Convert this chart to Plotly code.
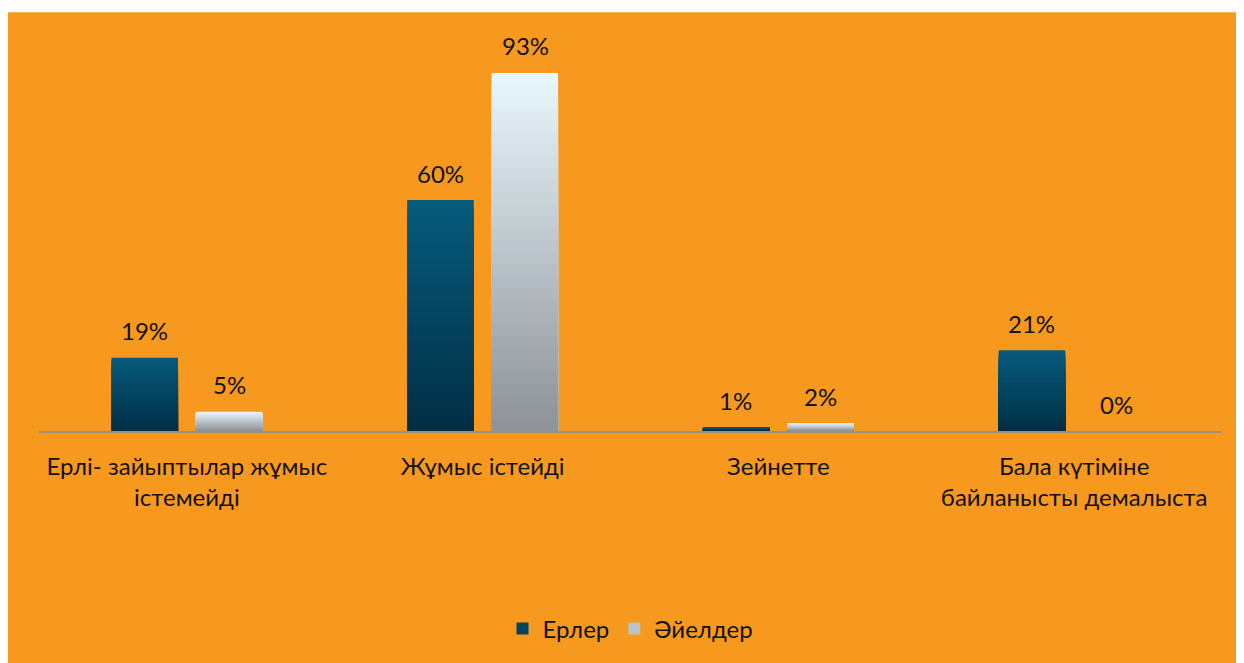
import plotly.graph_objects as go

categories = ["Ерлі- зайыптылар жұмыс<br>істемейді", "Жұмыс істейді", "Зейнетте",
              "Бала күтіміне<br>байланысты демалыста"]
men = [19, 60, 1, 21]
women = [5, 93, 2, 0]
series_names = ["Ерлер", "Әйелдер"]

# page body adds an 8px margin, so the figure is 8px smaller than the window
W, H = 1236, 655
ML, MR, MT, MB = 31, 22, 38, 230
PW = W - ML - MR
PH = H - MT - MB
FONT = "Lato, 'Open Sans', sans-serif"
ORANGE = "#F8991F"

def hex2rgb(h):
    h = h.lstrip("#")
    return tuple(int(h[i:i + 2], 16) for i in (0, 2, 4))

def mix(c1, c2, t):
    a, b = hex2rgb(c1), hex2rgb(c2)
    return "rgb(%d,%d,%d)" % tuple(round(a[i] + (b[i] - a[i]) * t) for i in range(3))

grad = {
    "m": ("#002E44", "#075B7D"),
    "f": ("#8C9297", "#EAF7FD"),
}

fig = go.Figure()
N = 30
for key, name, vals in (("m", series_names[0], men), ("f", series_names[1], women)):
    bottom, top = grad[key]
    for k in range(N):
        frac = (N - k) / N
        fig.add_trace(go.Bar(
            x=categories, y=[v * frac for v in vals], base=0,
            name=name, offsetgroup=key,
            marker=dict(color=mix(bottom, top, frac - 0.5 / N), line=dict(width=0)),
            showlegend=(k == N // 2), legendgroup=key, hoverinfo="skip",
        ))

annotations = []
for key, vals, shift in (("m", men, -42.5), ("f", women, 42.5)):
    for c, v in zip(categories, vals):
        annotations.append(dict(
            x=c, y=v, xref="x", yref="y", text=f"{v}%", showarrow=False,
            xshift=shift, yshift=27, yanchor="middle",
            font=dict(family=FONT, size=24, color="#111111"),
        ))

shapes = [dict(
    type="rect", xref="paper", yref="paper", layer="below",
    x0=-(ML + 2) / PW, x1=(W - ML + 5) / PW,
    y0=-(MB + 5) / PH, y1=(PH + MT - 4) / PH,
    fillcolor=ORANGE, line=dict(width=0),
)]

fig.update_layout(
    width=W, height=H,
    margin=dict(l=ML, r=MR, t=MT, b=MB, pad=0),
    paper_bgcolor="white", plot_bgcolor="rgba(0,0,0,0)",
    barmode="group", bargap=0.43, bargroupgap=0.21,
    font=dict(family=FONT, size=24, color="#111111"),
    shapes=shapes, annotations=annotations,
    legend=dict(orientation="h", x=0.5, xanchor="center", y=-(624 - 425) / PH,
                yanchor="middle", font=dict(size=24), bgcolor="rgba(0,0,0,0)",
                itemwidth=30),
    xaxis=dict(showline=True, linecolor="#9C8F80", linewidth=2, ticks="outside",
               ticklen=13, tickcolor="rgba(0,0,0,0)", tickfont=dict(size=24),
               showgrid=False, zeroline=False, fixedrange=True),
    yaxis=dict(range=[0, 100], visible=False, showgrid=False, zeroline=False,
               fixedrange=True),
)

fig.write_html("out.html")
